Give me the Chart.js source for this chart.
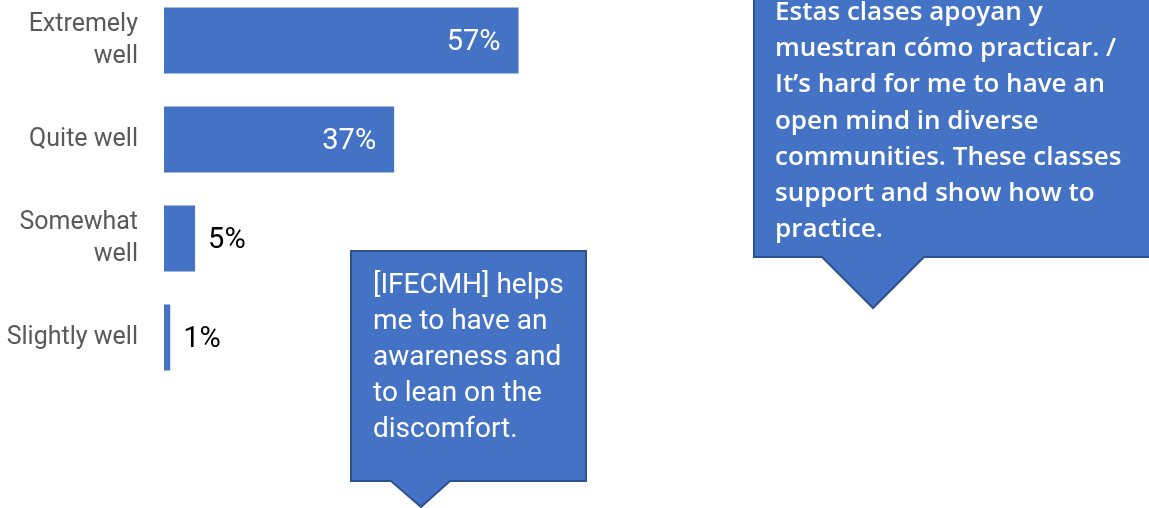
<!DOCTYPE html>
<html lang="en">
<head>
    <meta charset="UTF-8">
    <title>How well - survey</title>
    <script src="https://cdn.jsdelivr.net/npm/chart.js"></script>
    <style>
        html, body {
            margin: 0;
            padding: 0;
            background: #ffffff;
            width: 1149px;
            height: 508px;
            overflow: hidden;
        }
        .chart-box {
            position: absolute;
            left: 0;
            top: -9px;
            width: 786px;
            height: 396px;
        }
        .shapes {
            position: absolute;
            left: 0;
            top: 0;
        }
        .quote {
            position: absolute;
            color: #ffffff;
            white-space: nowrap;
        }
        .quote-left {
            left: 373px;
            top: 266px;
            font-family: Roboto, sans-serif;
            font-size: 28px;
            line-height: 36px;
        }
        .quote-right {
            left: 775px;
            top: -8px;
            font-family: "Open Sans", sans-serif;
            font-weight: 600;
            font-size: 26px;
            line-height: 36.2px;
        }
    </style>
</head>
<body>
    <div class="chart-box">
        <canvas id="barChart"></canvas>
    </div>

    <svg class="shapes" width="1149" height="508">
        <polygon points="351,251 586,251 586,481 450,481 421,507 391,481 351,481"
                 fill="#4472C4" stroke="#2F528F" stroke-width="2"/>
        <polygon points="754,-10 1160,-10 1160,257 924,257 873,308 822,257 754,257"
                 fill="#4472C4" stroke="#2F528F" stroke-width="2"/>
    </svg>

    <div class="quote quote-left">[IFECMH] helps<br>me to have an<br>awareness and<br>to lean on the<br>discomfort.</div>
    <div class="quote quote-right">Estas clases apoyan y<br>muestran cómo practicar. /<br>It’s hard for me to have an<br>open mind in diverse<br>communities. These classes<br>support and show how to<br>practice.</div>

    <script>
        // Data
        const categories = [['Extremely', 'well'], 'Quite well', ['Somewhat', 'well'], 'Slightly well'];
        const percentages = [57, 37, 5, 1];

        const labelFont = 'Roboto, sans-serif';

        // value labels: white inside long bars, black outside short ones
        const valueLabels = {
            id: 'valueLabels',
            afterDatasetsDraw(chart) {
                const ctx = chart.ctx;
                const meta = chart.getDatasetMeta(0);
                meta.data.forEach((bar, i) => {
                    const v = percentages[i];
                    ctx.save();
                    ctx.font = '29px ' + labelFont;
                    ctx.textBaseline = 'middle';
                    if (v >= 20) {
                        ctx.fillStyle = '#ffffff';
                        ctx.textAlign = 'right';
                        ctx.fillText(v + '%', bar.x - 18, bar.y + 2);
                    } else {
                        ctx.fillStyle = '#000000';
                        ctx.textAlign = 'left';
                        ctx.fillText(v + '%', bar.x + 13, bar.y + 2);
                    }
                    ctx.restore();
                });
            }
        };

        const ctx = document.getElementById('barChart').getContext('2d');
        new Chart(ctx, {
            type: 'bar',
            data: {
                labels: categories,
                datasets: [{
                    data: percentages,
                    backgroundColor: '#4472C4',
                    categoryPercentage: 1,
                    barPercentage: 0.667
                }]
            },
            options: {
                indexAxis: 'y',
                responsive: true,
                maintainAspectRatio: false,
                animation: false,
                layout: { padding: 0 },
                plugins: {
                    legend: { display: false },
                    tooltip: { enabled: false }
                },
                scales: {
                    x: {
                        display: false,
                        min: 0,
                        max: 100
                    },
                    y: {
                        grid: { display: false, drawTicks: false },
                        border: { display: false },
                        ticks: {
                            color: '#595959',
                            padding: 26,
                            font: { family: labelFont, size: 25, lineHeight: 1.28 }
                        },
                        afterFit(scale) {
                            scale.width = 164;
                            scale.paddingTop = 0;
                            scale.paddingBottom = 0;
                        }
                    }
                }
            },
            plugins: [valueLabels]
        });
    </script>
</body>
</html>
